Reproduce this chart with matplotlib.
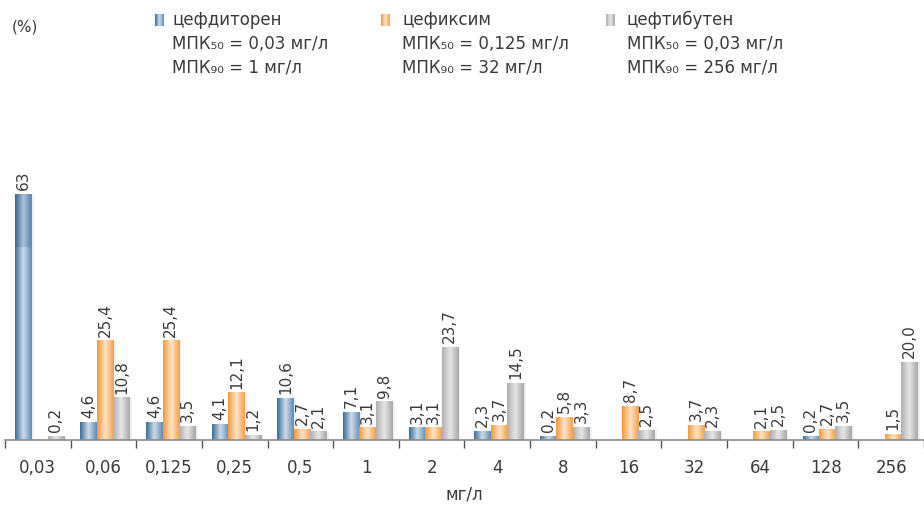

# MIC distribution chart: цефдиторен / цефиксим / цефтибутен

import numpy as np
import matplotlib
matplotlib.use("Agg")
import matplotlib.pyplot as plt
from matplotlib.colors import LinearSegmentedColormap

# data (None = no bar)
categories = ["0,03", "0,06", "0,125", "0,25", "0,5", "1", "2", "4", "8", "16", "32", "64", "128", "256"]
cefditoren = [63, 4.6, 4.6, 4.1, 10.6, 7.1, 3.1, 2.3, 0.2, None, None, None, 0.2, None]
cefixime = [None, 25.4, 25.4, 12.1, 2.7, 3.1, 3.1, 3.7, 5.8, 8.7, 3.7, 2.1, 2.7, 1.5]
ceftibuten = [0.2, 10.8, 3.5, 1.2, 2.1, 9.8, 23.7, 14.5, 3.3, 2.5, 2.3, 2.5, 3.5, 20.0]
value_labels = [
    ["63", "4,6", "4,6", "4,1", "10,6", "7,1", "3,1", "2,3", "0,2", None, None, None, "0,2", None],
    [None, "25,4", "25,4", "12,1", "2,7", "3,1", "3,1", "3,7", "5,8", "8,7", "3,7", "2,1", "2,7", "1,5"],
    ["0,2", "10,8", "3,5", "1,2", "2,1", "9,8", "23,7", "14,5", "3,3", "2,5", "2,3", "2,5", "3,5", "20,0"],
]
series_names = ["цефдиторен", "цефиксим", "цефтибутен"]
mic50 = ["0,03", "0,125", "0,03"]
mic90 = ["1", "32", "256"]

# gradient colours per series: (left edge, highlight, right edge)
grad = [
    ("#3a6d9b", "#cddcea", "#5f8cb6"),
    ("#f3993a", "#fee4c6", "#f5a04a"),
    ("#b0b0b0", "#e6e6e6", "#a6a6a6"),
]
cmaps = [LinearSegmentedColormap.from_list("g%d" % i, [(0, g[0]), (0.5, g[1]), (1, g[2])])
         for i, g in enumerate(grad)]
gradient = np.linspace(0, 1, 64).reshape(1, -1)

plt.rcParams['font.family'] = ['DejaVu Sans']
text_col = "#3a3a3a"

W, H = 924, 505
fig = plt.figure(figsize=(W / 100, H / 100), dpi=100)
ax = fig.add_axes([5 / W, 65 / H, 919 / W, 340 / H])

bw = 0.25
offsets = [-0.225, 0.025, 0.275]
min_h = 0.9   # smallest drawn height so tiny values stay visible
x = np.arange(len(categories))
ymax = 340 / 3.9

for s, vals in enumerate([cefditoren, cefixime, ceftibuten]):
    for i, v in enumerate(vals):
        if v is None:
            continue
        h = max(v, min_h)
        x0 = x[i] + offsets[s] - bw / 2
        x1 = x0 + bw
        # soft shadow on the right
        ax.add_patch(plt.Rectangle((x1, 0), 0.035, h, color="#000000", alpha=0.06, lw=0, zorder=1))
        ax.imshow(gradient, cmap=cmaps[s], extent=[x0, x1, 0, h], aspect="auto", zorder=2,
                  interpolation="bilinear")
        lab = value_labels[s][i]
        ax.annotate(lab, (x0 + bw / 2, h), xytext=(0, 3), textcoords="offset points",
                    rotation=90, ha="center", va="bottom", fontsize=11, color=text_col)

# darker top segment of the truncated 63 bar
v0 = cefditoren[0]
ax.add_patch(plt.Rectangle((x[0] + offsets[0] - bw / 2, v0 * 0.785), bw, v0 * 0.215,
                           color="#1f4f7a", alpha=0.18, lw=0, zorder=3))

ax.set_xlim(-0.5, 13.38)
ax.set_ylim(0, ymax)
for sp in ["top", "right", "left"]:
    ax.spines[sp].set_visible(False)
ax.spines["bottom"].set_color("#8a8a8a")
ax.spines["bottom"].set_linewidth(1.2)
ax.set_yticks([])
ax.set_xticks(x)
ax.set_xticklabels(categories, fontsize=12, color=text_col)
ax.set_xticks(np.arange(len(categories) + 1) - 0.5, minor=True)
ax.tick_params(axis="x", which="major", length=0, pad=14)
ax.tick_params(axis="x", which="minor", length=6, width=1, color="#555555")
ax.set_xlabel("мг/л", fontsize=12, color=text_col, labelpad=6)

# (%) label
fig.text(12 / W, 1 - 27 / H, "(%)", fontsize=11, color=text_col, va="center", ha="left")

# legend
marker_x = [155, 381, 606]
text_x = [172, 402, 627]
for s in range(3):
    lax = fig.add_axes([marker_x[s] / W, 1 - 26 / H, 9 / W, 12 / H])
    lax.imshow(gradient, cmap=cmaps[s], aspect="auto", interpolation="bilinear")
    lax.axis("off")
    fig.text(text_x[s] / W, 1 - 20 / H, series_names[s], fontsize=12, color=text_col, va="center")
    fig.text(text_x[s] / W, 1 - 44 / H, "МПК₅₀ = %s мг/л" % mic50[s], fontsize=12, color=text_col, va="center")
    fig.text(text_x[s] / W, 1 - 67 / H, "МПК₉₀ = %s мг/л" % mic90[s], fontsize=12, color=text_col, va="center")

fig.savefig("out.png", dpi=100)
